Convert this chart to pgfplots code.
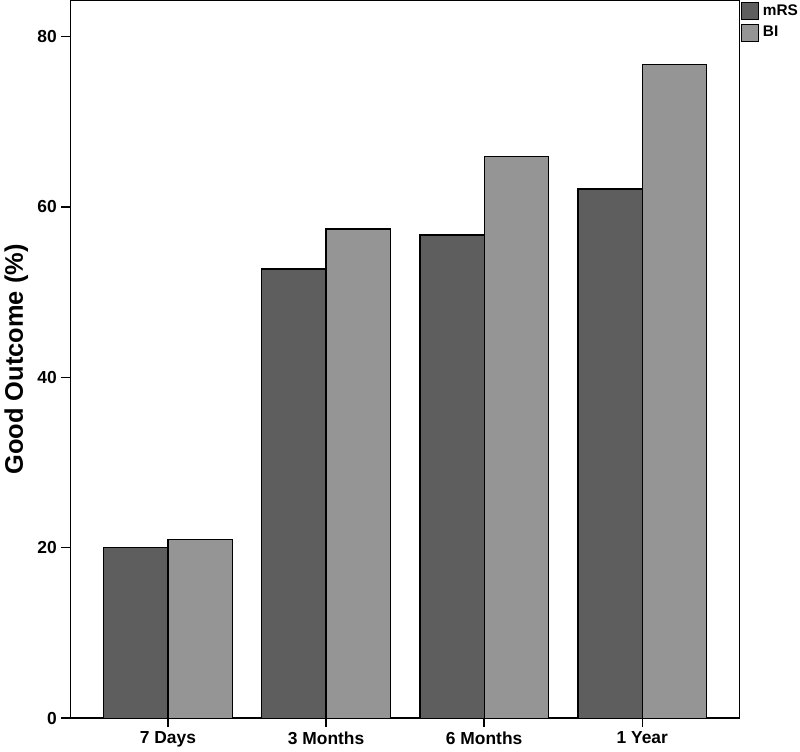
\documentclass[border=0pt]{standalone}
\usepackage{pgfplots}
\pgfplotsset{compat=1.18}
\usepackage{fontspec}
\setmainfont{Liberation Sans}
\definecolor{mrs}{HTML}{5E5E5E}
\definecolor{bi}{HTML}{959595}
\begin{document}
\begin{tikzpicture}
\begin{axis}[
  scale only axis, width=500.25pt, height=536.25pt,
  ymin=0, ymax=84.2, xmin=-0.617, xmax=3.617,
  xtick={0,1,2,3}, xticklabels={7 Days, 3 Months, 6 Months, 1 Year},
  ytick={0,20,40,60,80},
  tick align=outside, xtick pos=bottom, ytick pos=left,
  major tick length=6.75pt,
  tick style={black, line width=1pt},
  axis line style={line width=1pt},
  ticklabel style={font=\fontsize{13}{13}\selectfont\bfseries},
  /pgf/number format/assume math mode=true,
  ylabel={Good Outcome (\%)},
  ylabel style={font=\fontsize{19}{19}\selectfont\bfseries},
  ybar=0pt, bar width=0.406,
  legend style={at={(1,1)}, anchor=north west, xshift=1pt, yshift=-1pt, draw=none, fill=none,
    font=\fontsize{11.5}{12}\selectfont\bfseries, inner sep=0pt, row sep=3pt,
    nodes={inner sep=1.5pt}},
  legend cell align=left,
]
\addplot[fill=mrs, draw=black, line width=0.9pt, bar shift=-0.203,
  legend image code/.code={\draw[fill=mrs,draw=black,line width=0.6pt] (0pt,-6.25pt) rectangle (12.5pt,6.25pt);}]
  coordinates {(0,20.0) (1,52.7) (2,56.7) (3,62.1)};
\addplot[fill=bi, draw=black, line width=0.9pt, bar shift=0.203,
  legend image code/.code={\draw[fill=bi,draw=black,line width=0.6pt] (0pt,-6.25pt) rectangle (12.5pt,6.25pt);}]
  coordinates {(0,21.0) (1,57.4) (2,65.9) (3,76.7)};
\legend{\hspace{1.5pt}mRS, \hspace{1.5pt}BI}
\end{axis}
\end{tikzpicture}
\end{document}
